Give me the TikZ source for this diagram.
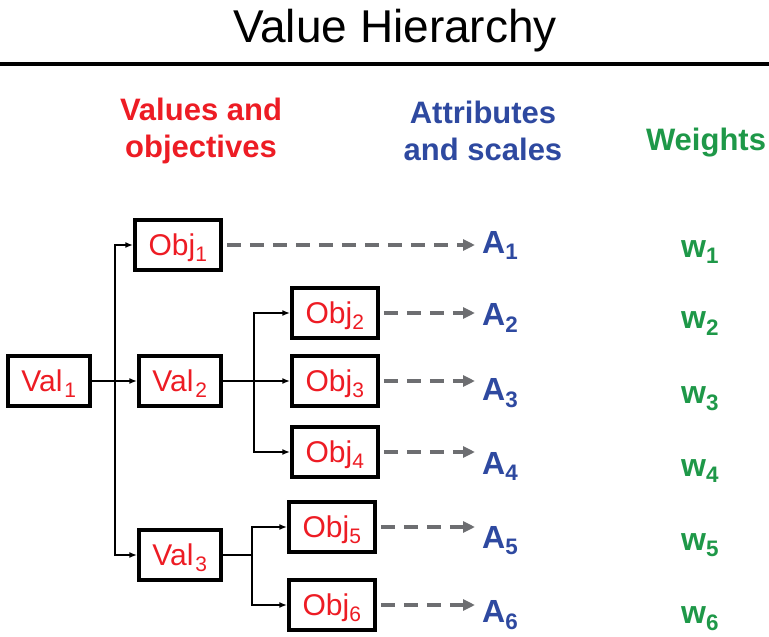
\documentclass[tikz,border=0pt]{standalone}
\usepackage{fontspec}
\setmainfont{Liberation Sans}
\usetikzlibrary{arrows.meta}
\definecolor{valred}{HTML}{ED1C24}
\definecolor{attblue}{HTML}{2E49A0}
\definecolor{wgtgreen}{HTML}{1E9848}
\definecolor{dashgray}{HTML}{6D6E71}

\begin{document}
\begin{tikzpicture}[x=1pt, y=-1pt,
  box/.style={draw=black, line width=3.5pt, text=valred, minimum height=50pt,
    text height=21.5pt, text depth=0pt, inner sep=0pt,
    font=\fontsize{30}{36}\selectfont},
  valbox/.style={box, minimum width=82pt},
  objbox/.style={box, minimum width=86pt},
  link/.style={line width=2.6pt, black},
  linkarr/.style={link, -{Latex[length=8pt,width=6pt]}},
  attarr/.style={line width=3.5pt, dashgray, dash pattern=on 14pt off 9pt,
    -{Triangle[length=12pt,width=11pt]}, shorten <=4pt},
  attr/.style={anchor=base west, inner xsep=7pt, inner ysep=0pt, text=attblue,
    font=\bfseries\fontsize{32}{38}\selectfont},
  wgt/.style={anchor=base west, inner sep=0pt, text=wgtgreen,
    font=\bfseries\fontsize{32}{38}\selectfont},
  head/.style={align=center, inner sep=0pt, font=\bfseries\fontsize{31}{37}\selectfont}]
  \useasboundingbox (0,0) rectangle (769,637);

  \node[anchor=base, inner sep=0pt, font=\fontsize{46}{50}\selectfont] (title) at (395,42) {Value Hierarchy};
  \draw[line width=4.5pt] (0,64) -- (769,64);

  \node[head, anchor=north, text=valred] (hval) at (201,97.5) {Values and\\objectives};
  \node[head, anchor=north, text=attblue] (hatt) at (483,100.5) {Attributes\\and scales};
  \node[head, anchor=base, text=wgtgreen] (hwgt) at (706,150) {Weights};

  \node[valbox] (val1) at (49,381) {Val\textsubscript{\kern2pt 1}};
  \node[valbox] (val2) at (180,381) {Val\textsubscript{\kern2pt 2}};
  \node[valbox] (val3) at (180,555) {Val\textsubscript{\kern2pt 3}};
  \node[objbox] (obj1) at (178,245) {Obj\textsubscript{1}};
  \node[objbox] (obj2) at (335,313) {Obj\textsubscript{2}};
  \node[objbox] (obj3) at (335,381) {Obj\textsubscript{3}};
  \node[objbox] (obj4) at (335,452) {Obj\textsubscript{4}};
  \node[objbox] (obj5) at (332,527) {Obj\textsubscript{5}};
  \node[objbox] (obj6) at (332,605) {Obj\textsubscript{6}};

  \coordinate (t1) at (115,381);
  \coordinate (t2) at (254,381);
  \coordinate (t3) at (252,555);

  \draw[linkarr] (val1) -- (val2);
  \draw[linkarr] (t1) |- (obj1);
  \draw[linkarr] (t1) |- (val3);
  \draw[linkarr] (val2) -- (obj3);
  \draw[linkarr] (t2) |- (obj2);
  \draw[linkarr] (t2) |- (obj4);
  \draw[link] (val3) -- (t3);
  \draw[linkarr] (t3) |- (obj5);
  \draw[linkarr] (t3) |- (obj6);

  \node[attr] (a1) at (475,253) {A\textsubscript{1}};
  \node[attr] (a2) at (475,325) {A\textsubscript{2}};
  \node[attr] (a3) at (475,400) {A\textsubscript{3}};
  \node[attr] (a4) at (475,474) {A\textsubscript{4}};
  \node[attr] (a5) at (475,548) {A\textsubscript{5}};
  \node[attr] (a6) at (475,622) {A\textsubscript{6}};

  \draw[attarr] (obj1) -- (obj1 -| a1.west);
  \draw[attarr] (obj2) -- (obj2 -| a2.west);
  \draw[attarr] (obj3) -- (obj3 -| a3.west);
  \draw[attarr] (obj4) -- (obj4 -| a4.west);
  \draw[attarr] (obj5) -- (obj5 -| a5.west);
  \draw[attarr] (obj6) -- (obj6 -| a6.west);

  \node[wgt] (w1) at (681,257) {w\textsubscript{1}};
  \node[wgt] (w2) at (681,328) {w\textsubscript{2}};
  \node[wgt] (w3) at (681,403) {w\textsubscript{3}};
  \node[wgt] (w4) at (681,476) {w\textsubscript{4}};
  \node[wgt] (w5) at (681,550) {w\textsubscript{5}};
  \node[wgt] (w6) at (681,623) {w\textsubscript{6}};
\end{tikzpicture}
\end{document}
